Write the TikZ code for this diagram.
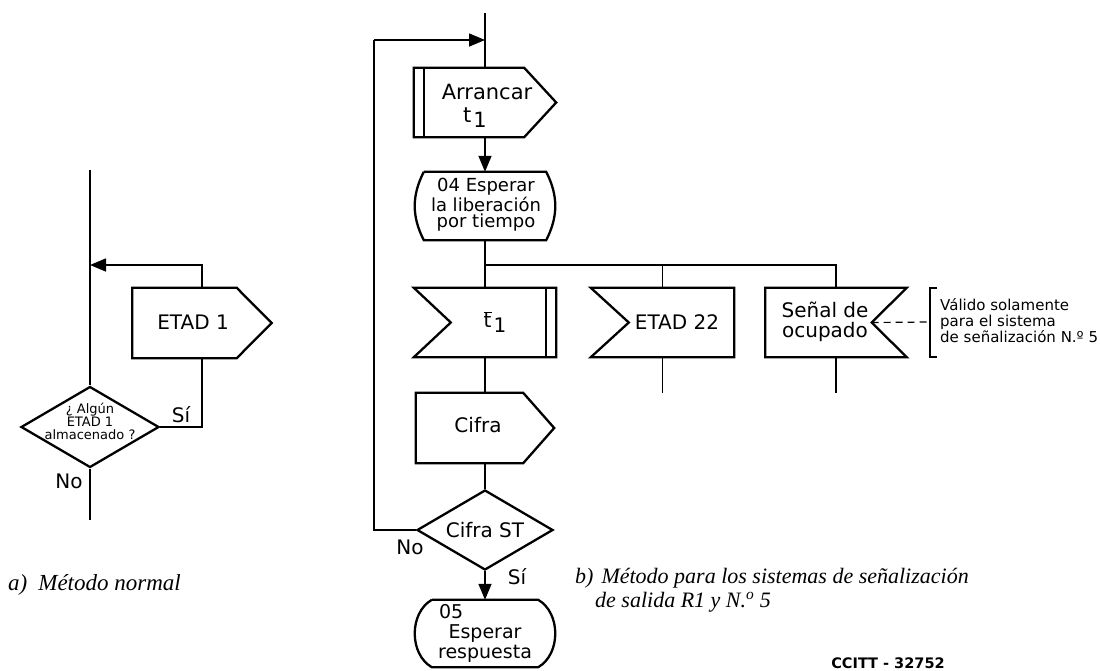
\documentclass[tikz,border=0pt]{standalone}
\usepackage{fontspec}
\setmainfont{DejaVu Sans}
\newfontfamily\capfont{Liberation Serif}
\usetikzlibrary{arrows.meta,shapes.geometric}

\newcommand{\tone}{t\kern2pt\raisebox{-5pt}{1}}
\newcommand{\tbar}{$\overline{\mbox{t}}$\kern2pt\raisebox{-5pt}{1}}

\begin{document}
\begin{tikzpicture}[x=1pt,y=-1pt,
  >={Triangle[length=16pt,width=13pt]},
  line/.style={line width=1.5pt},
  shp/.style={line width=2.3pt,line join=miter},
  body/.style={rectangle,inner sep=0pt,minimum height=70pt},
  txt/.style={inner sep=0pt,align=center,font=\fontsize{20}{23}\selectfont},
  small/.style={inner sep=0pt,align=center,font=\fontsize{13}{13}\selectfont},
  dec/.style={diamond,draw,shp,inner sep=0pt},
  captxt/.style={anchor=west,align=left,inner sep=0pt,font=\capfont\itshape\fontsize{22}{24}\selectfont}]
\useasboundingbox (0,0) rectangle (1100,670);

% a) metodo normal
\coordinate (ltop) at (90,170);
\coordinate (lbot) at (90,520);
\coordinate (ljoin) at (90,265);
\node[body,minimum width=139pt] (etad1) at (202,323) {};
\node[txt] (etad1txt) at (193,322) {ETAD 1};
\node[dec,minimum width=138pt,minimum height=81pt] (alg) at (90,427) {};
\node[small] (algtxt) at (90,421) {¿ Algún\\ETAD 1\\almacenado ?};
\node[txt] (si1) at (181,415) {Sí};
\node[txt] (no1) at (69,481) {No};
\draw[shp] (etad1.north west) -- ([xshift=-35pt]etad1.north east) -- (etad1.east)
  -- ([xshift=-35pt]etad1.south east) -- (etad1.south west) -- cycle;
\draw[line] (ltop) -- (alg.north);
\draw[line] (alg.south) -- (lbot);
\draw[line] (alg.east) -| (etad1.south);
\draw[line,->] (etad1.north) |- (ljoin);
\node[captxt,font=\capfont\itshape\fontsize{23}{24}\selectfont] (capa) at (8,585) {a)\hspace{11pt}Método normal};

% b) R1 y N.o 5
\coordinate (mtop) at (485,13);
\coordinate (loopin) at (485,40);
\coordinate (lcorner) at (374,40);
\coordinate (br) at (485,265);
\node[body,minimum width=142pt,minimum height=69pt] (arr) at (485,102.5) {};
\node[txt,font=\fontsize{21}{23}\selectfont] (arrtxt) at (487,106) {Arrancar\\\tone\hspace*{24pt}};
\draw[shp] (arr.north west) -- ([xshift=-32pt]arr.north east) -- (arr.east)
  -- ([xshift=-32pt]arr.south east) -- (arr.south west) -- cycle;
\draw[shp] ([xshift=10pt]arr.north west) -- ([xshift=10pt]arr.south west);

\node[body,minimum width=122pt,minimum height=68pt] (wait) at (485,206) {};
\node[txt,font=\fontsize{18}{16.5}\selectfont] (waittxt) at (486,205) {04 Esperar\\la liberación\\por tiempo};
\draw[shp] (wait.north west) -- (wait.north east) to[bend left=27] (wait.south east)
  -- (wait.south west) to[bend left=27] (wait.north west);

\node[body,minimum width=142pt,minimum height=69pt] (tin) at (485,322.5) {};
\node[txt] (tintxt) at (495,322) {\tbar};
\draw[shp] (tin.north west) -- (tin.north east) -- (tin.south east) -- (tin.south west)
  -- ([xshift=37pt]tin.west) -- cycle;
\draw[shp] ([xshift=-10pt]tin.north east) -- ([xshift=-10pt]tin.south east);

\node[body,minimum width=143pt,minimum height=69pt] (e22) at (662.5,322.5) {};
\node[txt] (e22txt) at (677,322) {ETAD 22};
\draw[shp] (e22.north west) -- (e22.north east) -- (e22.south east) -- (e22.south west)
  -- ([xshift=38pt]e22.west) -- cycle;

\node[body,minimum width=141pt,minimum height=69pt] (senal) at (836,322.5) {};
\node[txt,font=\fontsize{20}{20}\selectfont] (senaltxt) at (825,322) {Señal de\\ocupado};
\draw[shp] (senal.north west) -- (senal.north east) -- ([xshift=-35pt]senal.east)
  -- (senal.south east) -- (senal.south west) -- cycle;
\coordinate (e22end) at (662.5,393);
\coordinate (senend) at (836,393);

\node[body,minimum width=138pt] (cifra) at (485,428) {};
\node[txt] (cifratxt) at (478,425) {Cifra};
\draw[shp] (cifra.north west) -- ([xshift=-31pt]cifra.north east) -- (cifra.east)
  -- ([xshift=-31pt]cifra.south east) -- (cifra.south west) -- cycle;

\node[dec,minimum width=136pt,minimum height=80pt] (cst) at (485,530) {};
\node[txt] (csttxt) at (485,530) {Cifra ST};
\node[txt] (no2) at (410,547) {No};
\node[txt] (si2) at (517,577) {Sí};

\node[body,minimum width=106pt,minimum height=67pt] (resp) at (485,633.5) {};
\node[txt,font=\fontsize{19}{20}\selectfont] (resptxt) at (485,633) {\makebox[92pt][l]{05}\\Esperar\\respuesta};
\draw[shp] (resp.north west) -- (resp.north east) to[bend left=60] (resp.south east)
  -- (resp.south west) to[bend left=60] (resp.north west);

\draw[line] (mtop) -- (arr.north);
\draw[line,->] (arr.south) -- (wait.north);
\draw[line] (wait.south) -- (br) -- (tin.north);
\draw[line] (br) -| (e22.north);
\draw[line] (br) -| (senal.north);
\draw[line] (e22.south) -- (e22end);
\draw[line] (senal.south) -- (senend);
\draw[line] (tin.south) -- (cifra.north);
\draw[line] (cifra.south) -- (cst.north);
\draw[line,->] (cst.south) -- (resp.north);
\draw[line] (cst.west) -| (lcorner);
\draw[line,->] (lcorner) -- (loopin);

% nota
\coordinate (brk) at (930,322);
\draw[line,line width=1.2pt,dash pattern=on 7pt off 5pt] ([xshift=-35pt]senal.east) -- (brk);
\draw[line,line width=1.2pt] (937,288) -- (930,288) -- (930,357) -- (937,357);
\node[anchor=west,align=left,inner sep=0pt,font=\fontsize{15}{16}\selectfont] (note) at (940,321)
  {Válido solamente\\para el sistema\\de señalización N.º 5};

\node[captxt] (capb) at (575,590) {b)\hspace{8pt}Método para los sistemas de señalización\\\hspace*{20pt}de salida R1 y N.\textsuperscript{o} 5};
\node[inner sep=0pt,font=\bfseries\fontsize{14.5}{14.5}\selectfont] (ccitt) at (888,663) {CCITT - 32752};
\end{tikzpicture}
\end{document}
